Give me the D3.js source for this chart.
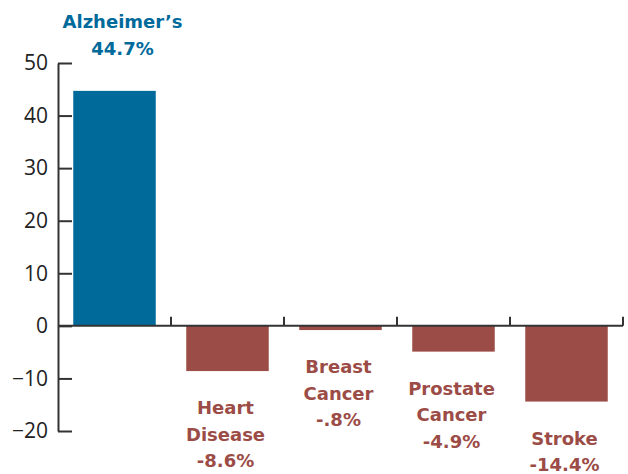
<!DOCTYPE html>
<html>
<head>
<meta charset="utf-8">
<script src="https://cdn.jsdelivr.net/npm/d3@7"></script>
<style>
  body { margin: 0; background: #fff; }
  svg { display: block; font-family: "Open Sans", sans-serif; }
</style>
</head>
<body>
<div id="chart"></div>
<script>
const categories = ["Alzheimer\u2019s", "Heart Disease", "Breast Cancer", "Prostate Cancer", "Stroke"];
const labelLines = [["Alzheimer\u2019s"], ["Heart", "Disease"], ["Breast", "Cancer"], ["Prostate", "Cancer"], ["Stroke"]];
const values = [44.7, -8.6, -0.8, -4.9, -14.4];
const valueLabels = ["44.7%", "-8.6%", "-.8%", "-4.9%", "-14.4%"];
const yTicks = [-20, -10, 0, 10, 20, 30, 40, 50];

const width = 628;
const height = 474;
const margin = { top: 63, right: 5, bottom: 43, left: 58 };
const blue = "#006a9b";
const red = "#9c4c46";

const x = d3
  .scaleBand()
  .domain(categories)
  .range([margin.left, 623])
  .paddingInner(0.27)
  .paddingOuter(0.135);

const y = d3
  .scaleLinear()
  .domain([-20, 50])
  .range([height - margin.bottom, margin.top]);

const svg = d3
  .select("#chart")
  .append("svg")
  .attr("width", width)
  .attr("height", height)
  .attr("viewBox", [0, 0, width, height]);

// bars
svg
  .append("g")
  .selectAll("rect")
  .data(values)
  .join("rect")
  .attr("x", (d, i) => x(categories[i]))
  .attr("width", x.bandwidth())
  .attr("y", (d) => y(Math.max(0, d)))
  .attr("height", (d) => Math.abs(y(d) - y(0)))
  .attr("fill", (d) => (d >= 0 ? blue : red));

// y axis, ticks point inward
svg
  .append("g")
  .attr("transform", `translate(${margin.left},0)`)
  .call(d3.axisRight(y).tickValues(yTicks).tickSize(14).tickSizeOuter(0))
  .call((g) => g.select(".domain").attr("stroke", "#333").attr("stroke-width", 2))
  .call((g) => g.selectAll(".tick line").attr("stroke", "#333").attr("stroke-width", 2))
  .call((g) =>
    g
      .selectAll(".tick text")
      .attr("x", -10)
      .attr("text-anchor", "end")
      .attr("fill", "#222")
      .attr("font-size", 21)
  )
  .attr("font-family", null);

// zero line with category separators
const step = x.step();
const seps = categories.map((c) => x(c) + x.bandwidth() + (step - x.bandwidth()) / 2);
const gx = svg.append("g").attr("transform", `translate(0,${y(0)})`);
gx.append("line")
  .attr("x1", margin.left)
  .attr("x2", 623)
  .attr("stroke", "#333")
  .attr("stroke-width", 2);
gx.selectAll(".sep")
  .data(seps)
  .join("line")
  .attr("class", "sep")
  .attr("x1", (d) => d)
  .attr("x2", (d) => d)
  .attr("y1", 0)
  .attr("y2", -9)
  .attr("stroke", "#333")
  .attr("stroke-width", 2);

// labels
const lineH = 26.5;
const labels = svg
  .append("g")
  .attr("font-family", "'DejaVu Sans', sans-serif")
  .attr("font-weight", 700)
  .attr("font-size", 18)
  .attr("text-anchor", "middle")
  .selectAll("text")
  .data(values)
  .join("text")
  .attr("fill", (d) => (d >= 0 ? blue : red))
  .attr("transform", (d, i) => {
    const cx = x(categories[i]) + x.bandwidth() / 2 + (d >= 0 ? 8 : -2);
    const n = labelLines[i].length + 1;
    const base = d >= 0 ? y(d) - 36 - (n - 1) * lineH : y(d) + 43;
    return `translate(${cx},${base})`;
  });

labels.each(function (d, i) {
  const t = d3.select(this);
  [...labelLines[i], valueLabels[i]].forEach((s, k) =>
    t.append("tspan").attr("x", 0).attr("y", k * lineH).text(s)
  );
});
</script>
</body>
</html>
